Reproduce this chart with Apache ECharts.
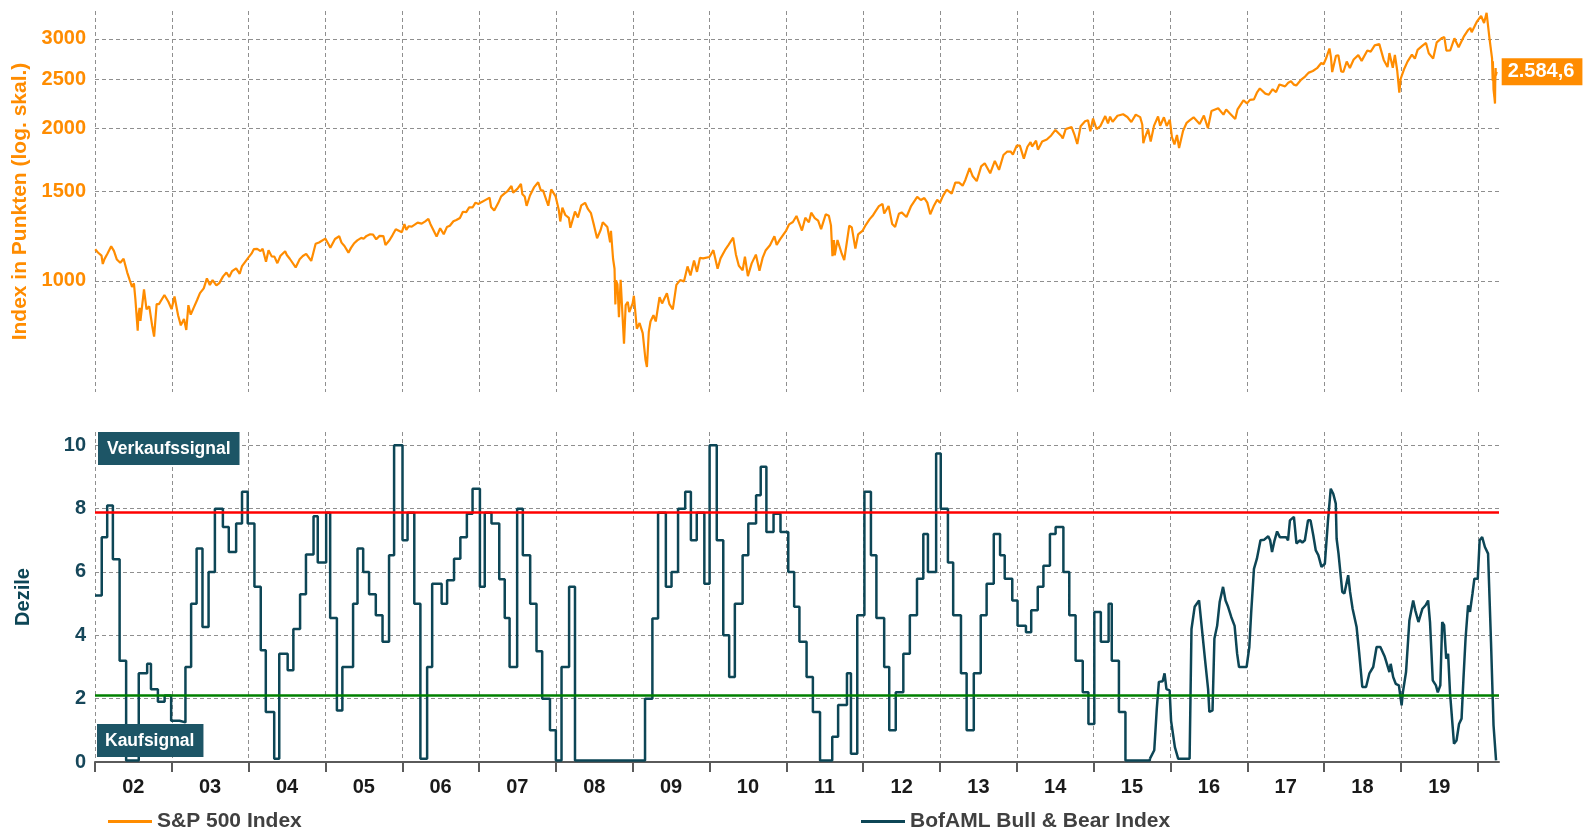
<!DOCTYPE html>
<html>
<head>
<meta charset="utf-8">
<script src="https://cdn.jsdelivr.net/npm/echarts@6/dist/echarts.min.js"></script>
<style>
  html, body { margin: 0; padding: 0; background: #fff; }
  #chart { width: 1583px; height: 830px; }
</style>
</head>
<body>
<div id="chart"></div>
<script>
// S&P 500 Index (Schlusskurse, gelesen aus der Vorlage)
var spxDates = [
  "2002-01-02","2002-01-15","2002-02-01","2002-02-07","2002-02-15","2002-03-01","2002-03-19","2002-04-01","2002-04-15","2002-05-01","2002-05-17","2002-06-03","2002-06-14","2002-06-26","2002-07-05","2002-07-12","2002-07-23","2002-07-26","2002-08-01","2002-08-05","2002-08-22","2002-09-03","2002-09-16","2002-09-30","2002-10-09","2002-10-21","2002-11-01","2002-11-27","2002-12-02","2002-12-16","2002-12-31",
  "2003-01-14","2003-01-31","2003-02-13","2003-02-28","2003-03-11","2003-03-21","2003-04-01","2003-04-15","2003-05-01","2003-05-15","2003-06-02","2003-06-17","2003-07-01","2003-07-14","2003-08-01","2003-08-15","2003-09-02","2003-09-18","2003-10-01","2003-10-15","2003-11-03","2003-11-20","2003-12-01","2003-12-31",
  "2004-01-15","2004-01-26","2004-02-11","2004-02-27","2004-03-08","2004-03-24","2004-04-05","2004-04-20","2004-05-03","2004-05-17","2004-06-01","2004-06-23","2004-07-01","2004-07-15","2004-08-12","2004-08-31","2004-09-15","2004-10-01","2004-10-25","2004-11-15","2004-12-01","2004-12-31",
  "2005-01-14","2005-01-24","2005-02-15","2005-03-07","2005-03-18","2005-04-01","2005-04-20","2005-05-02","2005-05-16","2005-06-01","2005-06-20","2005-07-01","2005-07-15","2005-08-01","2005-08-15","2005-08-30","2005-09-15","2005-10-03","2005-10-13","2005-11-01","2005-11-15","2005-12-01","2005-12-30",
  "2006-01-11","2006-01-20","2006-02-01","2006-02-15","2006-03-01","2006-03-15","2006-04-03","2006-04-20","2006-05-05","2006-05-15","2006-06-13","2006-06-30","2006-07-17","2006-08-01","2006-08-15","2006-09-01","2006-09-15","2006-10-02","2006-10-16","2006-11-01","2006-11-15","2006-12-01","2006-12-15","2006-12-29",
  "2007-01-12","2007-02-01","2007-02-20","2007-02-27","2007-03-14","2007-04-02","2007-04-16","2007-05-01","2007-05-15","2007-06-04","2007-06-12","2007-07-02","2007-07-19","2007-07-26","2007-08-06","2007-08-15","2007-08-31","2007-09-19","2007-10-09","2007-10-22","2007-11-01","2007-11-26","2007-12-10","2007-12-31",
  "2008-01-15","2008-01-22","2008-02-01","2008-02-15","2008-03-03","2008-03-10","2008-03-17","2008-04-01","2008-04-15","2008-05-01","2008-05-19","2008-06-02","2008-06-16","2008-07-01","2008-07-15","2008-08-01","2008-08-11","2008-09-02","2008-09-15","2008-09-19","2008-09-29","2008-10-06","2008-10-10","2008-10-13","2008-10-20","2008-10-27","2008-11-04","2008-11-20","2008-11-28","2008-12-08","2008-12-15","2008-12-31",
  "2009-01-06","2009-01-20","2009-02-02","2009-02-17","2009-03-02","2009-03-09","2009-03-18","2009-03-26","2009-04-09","2009-04-20","2009-05-08","2009-05-20","2009-06-12","2009-06-24","2009-07-10","2009-07-27","2009-08-14","2009-09-01","2009-09-18","2009-10-02","2009-10-19","2009-11-02","2009-11-16","2009-12-01","2009-12-31",
  "2010-01-19","2010-02-08","2010-02-22","2010-03-15","2010-04-01","2010-04-23","2010-05-06","2010-05-20","2010-06-07","2010-06-18","2010-07-02","2010-07-20","2010-08-09","2010-08-26","2010-09-10","2010-09-24","2010-10-15","2010-11-05","2010-11-16","2010-12-01","2010-12-31",
  "2011-01-14","2011-02-01","2011-02-18","2011-03-01","2011-03-16","2011-04-01","2011-04-18","2011-04-29","2011-05-16","2011-06-01","2011-06-15","2011-07-07","2011-07-22","2011-08-01","2011-08-08","2011-08-15","2011-08-19","2011-09-01","2011-09-22","2011-10-03","2011-10-27","2011-11-08","2011-11-25","2011-12-08","2011-12-30",
  "2012-01-13","2012-02-01","2012-02-15","2012-03-01","2012-03-16","2012-04-02","2012-04-10","2012-05-01","2012-05-18","2012-06-01","2012-06-19","2012-07-02","2012-07-25","2012-08-16","2012-09-14","2012-10-01","2012-10-18","2012-11-01","2012-11-15","2012-12-03","2012-12-18","2012-12-31",
  "2013-01-14","2013-02-01","2013-02-25","2013-03-14","2013-04-01","2013-04-18","2013-05-01","2013-05-21","2013-06-05","2013-06-24","2013-07-15","2013-08-01","2013-08-27","2013-09-18","2013-10-08","2013-10-29","2013-11-15","2013-12-02","2013-12-13","2013-12-31",
  "2014-01-15","2014-02-03","2014-02-20","2014-03-07","2014-03-14","2014-04-02","2014-04-11","2014-05-01","2014-05-23","2014-06-13","2014-07-03","2014-07-31","2014-08-07","2014-08-21","2014-09-18","2014-10-01","2014-10-15","2014-10-31","2014-11-21","2014-12-05","2014-12-16","2014-12-29",
  "2015-01-15","2015-02-02","2015-02-25","2015-03-10","2015-03-20","2015-04-01","2015-04-24","2015-05-21","2015-06-10","2015-06-29","2015-07-08","2015-07-20","2015-08-10","2015-08-20","2015-08-25","2015-09-01","2015-09-17","2015-09-29","2015-10-15","2015-11-03","2015-11-13","2015-12-01","2015-12-14","2015-12-29",
  "2016-01-08","2016-01-20","2016-02-01","2016-02-11","2016-03-01","2016-03-18","2016-04-01","2016-04-20","2016-05-19","2016-06-08","2016-06-27","2016-07-14","2016-08-15","2016-09-09","2016-09-22","2016-10-13","2016-11-04","2016-11-15","2016-12-13","2016-12-30",
  "2017-01-13","2017-02-01","2017-02-15","2017-03-01","2017-03-27","2017-04-13","2017-05-01","2017-05-17","2017-06-02","2017-06-29","2017-07-14","2017-07-27","2017-08-10","2017-08-21","2017-09-11","2017-10-02","2017-10-20","2017-11-08","2017-11-28","2017-12-18","2017-12-29",
  "2018-01-10","2018-01-26","2018-02-02","2018-02-08","2018-02-26","2018-03-09","2018-03-23","2018-04-02","2018-04-18","2018-05-03","2018-05-21","2018-06-12","2018-06-28","2018-07-25","2018-08-10","2018-08-29","2018-09-20","2018-10-11","2018-10-29","2018-11-07","2018-11-23","2018-12-03","2018-12-14","2018-12-24","2018-12-31",
  "2019-01-15","2019-02-01","2019-02-22","2019-03-08","2019-03-21","2019-04-12","2019-04-30","2019-05-13","2019-06-03","2019-06-20","2019-07-15","2019-07-26","2019-08-05","2019-08-23","2019-09-12","2019-10-02","2019-10-28","2019-11-15","2019-11-27","2019-12-03","2019-12-27",
  "2020-01-17","2020-01-31","2020-02-12","2020-02-19","2020-02-27","2020-03-03","2020-03-09","2020-03-12","2020-03-13","2020-03-16","2020-03-20","2020-03-23","2020-03-24","2020-03-26","2020-03-27","2020-03-31"
];
var spxValues = [
  1154.7,1138,1122,1080,1104,1131,1170,1146,1102,1086,1106,1040,1007,973,989,921,797.7,852,885,834,962,879,891,815,776.8,900,900,938,934,910,879.8,
  931.7,855.7,817.4,841,800.7,895.8,858,885,916,946,967,1011.7,982,1003.9,980,990,1021,1039,1018,1046,1059,1033,1070,1111.9,
  1132,1155,1157,1145,1157,1091,1150,1118,1117,1084,1121,1144,1125,1106,1063,1104,1120,1131,1095,1184,1191,1212,
  1184,1163,1210,1225,1190,1172,1137,1162,1185,1202,1216,1211,1227,1236,1234,1208,1227,1226,1177,1203,1230,1265,1248,
  1294,1261,1282,1280,1291,1303,1297,1311,1325,1294,1223,1270,1236,1277,1285,1311,1319,1331,1369,1367,1397,1396,1427,1418,
  1430,1445,1459,1399,1377,1424,1468,1486,1501,1539,1493,1519,1553,1482,1467,1406,1474,1529,1565,1506,1508,1407,1515,1468,
  1380,1310,1395,1349,1331,1273,1276,1370,1334,1409,1426,1385,1360,1284,1214,1260,1305,1277,1192,1255,1106,1057,899,1003,985,848,1005,752,896,909,868,903,
  935,805,826,789,700,676.5,794,832,856,832,929,903,946,900,879,982,1004,998,1068,1025,1097,1042,1110,1108,1115,
  1150,1057,1108,1150,1178,1217,1128,1071,1050,1117,1022,1083,1127,1047,1110,1148,1176,1225,1178,1206,1257,
  1293,1307,1343,1306,1257,1332,1305,1363,1330,1315,1265,1353,1345,1287,1119,1204,1123,1204,1129,1099,1285,1275,1158,1235,1257,
  1289,1324,1344,1374,1404,1419,1358,1405,1295,1278,1357,1365,1337,1405,1465,1444,1457,1427,1353,1409,1446,1426,
  1470,1513,1487,1563,1562,1541,1582,1669,1608,1573,1682,1706,1630,1725,1656,1771,1798,1800,1775,1848,
  1848,1742,1839,1878,1841,1891,1815,1883,1900,1936,1985,1931,1910,1992,2011,1946,1862,2018,2064,2075,1972,2090,
  1992,2020,2114,2044,2108,2059,2117,2131,2105,2058,2046,2128,2104,2035,1868,1914,1990,1884,2024,2110,2023,2103,2021,2078,
  1922,1859,1940,1829,1978,2050,2073,2102,2040,2119,2000,2163,2190,2128,2177,2132,2085,2180,2271,2239,
  2275,2280,2350,2396,2341,2329,2388,2357,2439,2419,2459,2475,2438,2428,2488,2529,2575,2594,2627,2690,2674,
  2748,2873,2762,2581,2780,2786,2588,2582,2708,2630,2733,2787,2716,2846,2833,2914,2931,2728,2641,2814,2633,2790,2600,2351,2507,
  2611,2707,2793,2743,2855,2907,2946,2812,2744,2954,3014,3026,2845,2847,3009,2888,3040,3120,3154,3093,3240,
  3330,3226,3379,3386,2979,3003,2747,2481,2711,2386,2305,2237,2447,2630,2541,2584.6
];

// BofAML Bull & Bear Index, Stufen bis 2015 (Datum = Beginn der Stufe)
var bbStepDates = [
  "2002-01-01","2002-02-02","2002-02-28","2002-03-27","2002-04-28","2002-05-29","2002-07-28","2002-09-06","2002-09-24","2002-10-27",
  "2002-11-28","2002-12-29","2003-02-07","2003-03-07","2003-04-03","2003-04-29","2003-05-27","2003-06-25","2003-07-25","2003-09-01",
  "2003-09-29","2003-11-03","2003-12-01","2003-12-28","2004-01-29","2004-02-28","2004-03-23","2004-05-02","2004-05-26","2004-07-05",
  "2004-08-01","2004-09-02","2004-09-30","2004-11-05","2004-11-25","2005-01-04","2005-01-23","2005-02-24","2005-03-22","2005-05-12",
  "2005-06-02","2005-06-29","2005-07-27","2005-08-28","2005-09-29","2005-10-30","2005-11-23","2006-01-02","2006-01-26","2006-02-27",
  "2006-03-28","2006-04-29","2006-05-23","2006-07-07","2006-08-02","2006-09-04","2006-10-04","2006-11-04","2006-12-01","2007-01-05",
  "2007-01-28","2007-03-01","2007-04-07","2007-05-03","2007-05-26","2007-07-01","2007-07-28","2007-09-01","2007-10-01","2007-10-28",
  "2007-12-04","2008-01-01","2008-01-28","2008-03-04","2008-04-01","2009-02-28","2009-04-04","2009-05-01","2009-06-07","2009-07-04",
  "2009-08-04","2009-09-07","2009-10-04","2009-11-01","2009-12-07","2010-01-01","2010-02-04","2010-03-07","2010-04-04","2010-05-01",
  "2010-06-07","2010-07-04","2010-08-10","2010-09-01","2010-09-28","2010-11-01","2010-12-04","2011-01-10","2011-02-07","2011-03-04",
  "2011-04-07","2011-05-07","2011-06-10","2011-08-07","2011-09-04","2011-10-16","2011-11-04","2011-12-04","2012-01-07","2012-02-07",
  "2012-03-04","2012-04-10","2012-05-04","2012-06-04","2012-07-10","2012-08-10","2012-09-13","2012-10-13","2012-11-04","2012-12-13",
  "2013-01-04","2013-02-07","2013-03-04","2013-04-10","2013-05-07","2013-06-10","2013-07-13","2013-08-10","2013-09-13","2013-10-13",
  "2013-11-04","2013-12-10","2014-01-04","2014-02-13","2014-03-10","2014-04-10","2014-05-07","2014-06-07","2014-07-04","2014-08-10",
  "2014-09-07","2014-10-07","2014-11-10","2014-12-07","2015-01-04","2015-02-04","2015-03-13","2015-03-28","2015-05-01","2015-06-01",
  "2015-09-25"
];
var bbStepValues = [
  5.26,7.1,8.1,6.4,3.2,0.05,2.8,3.1,2.3,1.9,
  2.1,1.3,1.25,3.0,5.0,6.74,4.26,6.0,8.0,7.42,
  6.63,7.53,8.53,7.53,5.53,3.53,1.58,0.1,3.42,2.9,
  4.2,5.3,6.55,7.76,6.3,7.87,4.55,1.63,3.0,5.0,
  6.74,6.0,5.3,4.63,3.8,6.53,10,7.0,7.87,5.0,
  0.1,3.0,5.63,5.0,5.74,6.42,7.1,7.84,8.63,5.53,
  7.87,7.53,5.77,4.55,3.0,8.0,6.53,5.0,3.5,2.0,
  1.0,0.05,3.0,5.53,0.05,2.0,4.53,7.87,5.53,6.0,
  8.0,8.53,7.0,7.87,5.63,10,7.0,4.0,2.68,5.0,
  6.53,7.53,8.42,9.32,7.26,7.84,7.26,6.0,4.9,3.8,
  2.68,1.58,0.05,0.8,1.8,2.8,0.26,4.63,8.53,6.53,
  4.55,3.0,1.0,2.2,3.42,4.63,5.79,7.2,6.0,9.74,
  8.0,6.3,4.63,2.8,1.0,2.8,4.63,5.63,7.2,6.53,
  5.79,5.1,4.3,4.1,4.79,5.53,6.2,7.2,7.42,6.0,
  4.63,3.2,2.2,1.2,4.74,3.8,5.0,3.2,1.58,0.05,
  0.1
];

// BofAML Bull & Bear Index, fortlaufend ab Herbst 2015
var bbDates = [
  "2015-09-25","2015-10-16","2015-10-28","2015-11-07","2015-11-25","2015-12-04","2015-12-13","2015-12-28","2016-01-04","2016-01-22",
  "2016-02-07","2016-04-01","2016-04-10","2016-04-25","2016-05-16","2016-05-25","2016-06-13","2016-06-28","2016-07-04","2016-07-19",
  "2016-07-28","2016-08-10","2016-08-22","2016-09-07","2016-09-19","2016-10-01","2016-10-16","2016-11-01","2016-11-13","2016-11-22",
  "2016-12-28","2017-01-10","2017-01-19","2017-02-01","2017-02-15","2017-03-04","2017-03-22","2017-04-10","2017-04-19","2017-04-28",
  "2017-05-10","2017-05-22","2017-06-04","2017-07-04","2017-07-13","2017-07-22","2017-08-10","2017-08-22","2017-09-07","2017-09-19",
  "2017-10-01","2017-10-16","2017-10-28","2017-11-10","2017-11-22","2017-12-04","2017-12-19","2018-01-04","2018-01-19","2018-02-01",
  "2018-02-13","2018-02-25","2018-03-01","2018-03-10","2018-03-19","2018-03-28","2018-04-07","2018-04-25","2018-05-04","2018-05-16",
  "2018-06-04","2018-06-16","2018-07-01","2018-07-19","2018-08-04","2018-08-22","2018-09-07","2018-09-25","2018-10-04","2018-10-16",
  "2018-10-25","2018-11-07","2018-11-13","2018-11-25","2018-12-07","2018-12-22","2019-01-04","2019-01-10","2019-01-25","2019-02-10",
  "2019-02-28","2019-03-10","2019-03-25","2019-04-13","2019-04-28","2019-05-10","2019-05-19","2019-06-01","2019-06-16","2019-06-25",
  "2019-07-07","2019-07-16","2019-07-25","2019-08-04","2019-08-13","2019-08-22","2019-09-10","2019-09-22","2019-10-04","2019-10-16",
  "2019-10-25","2019-11-04","2019-11-16","2019-11-25","2019-12-07","2019-12-16","2020-01-01","2020-01-10","2020-01-22","2020-02-04",
  "2020-02-19","2020-03-04","2020-03-16","2020-03-28"
];
var bbValues = [
  0.1,0.37,1.68,2.53,2.55,2.8,2.3,2.26,1.3,0.47,
  0.1,0.1,4.2,4.9,5.1,5.1,3.26,2.3,1.58,1.63,
  3.9,4.3,5.05,5.53,5.1,4.9,4.58,4.3,3.42,3.0,
  3.0,3.63,4.74,6.1,6.42,7.0,7.02,7.13,7.0,6.63,
  7.0,7.28,7.1,7.1,7.0,7.63,7.74,6.9,7.0,6.93,
  7.0,7.63,7.63,7.16,6.68,6.53,6.16,6.26,7.63,8.63,
  8.47,8.16,7.05,6.58,6.53,5.37,5.32,5.9,5.37,4.84,
  4.26,3.47,2.37,2.37,2.8,3.0,3.63,3.63,3.68,3.32,
  3.37,2.84,3.1,2.68,2.47,2.42,1.79,2.2,2.84,4.47,
  5.1,4.79,4.42,4.84,4.95,5.1,4.42,2.58,2.42,2.2,
  2.42,4.42,4.32,3.26,3.42,2.2,0.58,0.68,1.2,1.37,
  2.63,3.9,4.95,4.74,5.32,5.79,5.79,7.0,7.1,6.79,
  6.58,3.79,1.16,0.05
];

var spxTicks = [1000, 1500, 2000, 2500, 3000];
var decileTicks = [0, 2, 4, 6, 8, 10];
var sellLevel = 7.9;
var buyLevel = 2.1;
var firstYear = 2002, lastYear = 2020;

var FONT = "'Liberation Sans', Arial, sans-serif";
var ORANGE = "#FF8C00";
var TEAL = "#0d4656";
var GRID = "#8f8f8f";

function toTime(s) {
  var p = s.split("-");
  return +new Date(+p[0], +p[1] - 1, +p[2]);
}

function zip(dates, values) {
  if (dates.length !== values.length) {
    throw new Error("length mismatch " + dates.length + " / " + values.length);
  }
  return dates.map(function (d, i) { return [toTime(d), values[i]]; });
}

// Jahresgrenzen (Ticks/Gitter) und Jahresmitte (Beschriftung)
var yearStarts = [], yearMids = [];
for (var y = firstYear; y <= lastYear; y++) {
  yearStarts.push(+new Date(y, 0, 1));
  if (y < lastYear) yearMids.push(+new Date(y, 6, 2));
}
var xMin = +new Date(2002, 0, 1);
var xMax = +new Date(2020, 3, 11);

function deNum(v) {
  var p = v.toFixed(1).split(".");
  return p[0].replace(/\B(?=(\d{3})+(?!\d))/g, ".") + "," + p[1];
}

var gridLine = { color: GRID, width: 1, type: [4, 3] };

var myChart = echarts.init(document.getElementById("chart"));

var option = {
  animation: false,
  backgroundColor: "#ffffff",
  textStyle: { fontFamily: FONT },
  grid: [
    { left: 95, right: 84, top: 11, height: 381 },
    { left: 95, right: 84, top: 432, height: 330 }
  ],
  xAxis: [
    {
      type: "value", gridIndex: 0, min: xMin, max: xMax,
      axisLine: { show: false },
      axisTick: { show: false, customValues: yearStarts },
      axisLabel: { show: false, customValues: yearStarts },
      splitLine: { show: true, lineStyle: gridLine }
    },
    {
      type: "value", gridIndex: 1, min: xMin, max: xMax,
      axisLine: { show: true, onZero: false, lineStyle: { color: "#5a5a5a", width: 2 } },
      axisTick: { show: true, length: 10, customValues: yearStarts, lineStyle: { color: "#5a5a5a", width: 2 } },
      axisLabel: {
        show: true, customValues: yearMids, margin: 15,
        color: "#1a1a1a", fontSize: 20, fontWeight: "bold", fontFamily: FONT,
        formatter: function (v) { return String(new Date(v).getFullYear()).slice(2); }
      },
      splitLine: { show: true, lineStyle: gridLine }
    }
  ],
  yAxis: [
    {
      type: "log", logBase: 10, gridIndex: 0, min: 604, max: 3406,
      name: "Index in Punkten (log. skal.)",
      nameLocation: "middle", nameGap: 60, nameRotate: 90,
      nameTextStyle: { color: ORANGE, fontSize: 21, fontWeight: "bold", fontFamily: FONT },
      axisLine: { show: false },
      axisTick: { show: false, customValues: spxTicks },
      axisLabel: {
        customValues: spxTicks, margin: 9,
        color: ORANGE, fontSize: 20, fontWeight: "bold", fontFamily: FONT,
        formatter: function (v) { return String(Math.round(v)); }
      },
      splitLine: { show: true, lineStyle: gridLine }
    },
    {
      type: "value", gridIndex: 1, min: 0, max: 10.42,
      name: "Dezile",
      nameLocation: "middle", nameGap: 62, nameRotate: 90,
      nameTextStyle: { color: TEAL, fontSize: 20, fontWeight: "bold", fontFamily: FONT },
      axisLine: { show: false },
      axisTick: { show: false, customValues: decileTicks },
      axisLabel: {
        customValues: decileTicks, margin: 9,
        color: "#16475a", fontSize: 20, fontWeight: "bold", fontFamily: FONT
      },
      splitLine: { show: true, lineStyle: gridLine }
    }
  ],
  legend: [
    {
      data: ["S&P 500 Index"], left: 103, top: 806, icon: "rect",
      itemWidth: 44, itemHeight: 3, selectedMode: false,
      textStyle: { color: "#404040", fontSize: 21, fontWeight: "bold", fontFamily: FONT }
    },
    {
      data: ["BofAML Bull & Bear Index"], left: 856, top: 806, icon: "rect",
      itemWidth: 44, itemHeight: 3, selectedMode: false,
      textStyle: { color: "#404040", fontSize: 21, fontWeight: "bold", fontFamily: FONT }
    }
  ],
  graphic: [
    {
      type: "text", left: 98, top: 432, z: 100,
      style: {
        text: "Verkaufssignal", fill: "#ffffff",
        font: "bold 17.5px " + FONT,
        backgroundColor: "#1d5566", padding: [8, 9, 7, 9]
      }
    },
    {
      type: "text", left: 97, top: 724, z: 100,
      style: {
        text: "Kaufsignal", fill: "#ffffff",
        font: "bold 17.5px " + FONT,
        backgroundColor: "#1d5566", padding: [8, 9, 7, 8]
      }
    }
  ],
  series: [
    {
      name: "S&P 500 Index",
      type: "line", xAxisIndex: 0, yAxisIndex: 0,
      data: zip(spxDates, spxValues),
      showSymbol: false,
      color: ORANGE,
      lineStyle: { color: ORANGE, width: 2.2 },
      endLabel: {
        show: true, distance: 5,
        formatter: function (p) { return deNum(p.value[1]); },
        color: "#ffffff", backgroundColor: ORANGE,
        fontSize: 20, fontWeight: "bold", fontFamily: FONT,
        padding: [4, 8, 3, 6]
      }
    },
    {
      name: "BofAML Bull & Bear Index",
      type: "line", xAxisIndex: 1, yAxisIndex: 1,
      data: zip(bbStepDates, bbStepValues),
      step: "end",
      showSymbol: false,
      color: TEAL,
      lineStyle: { color: TEAL, width: 2.5 },
      markLine: {
        silent: true, symbol: ["none", "none"],
        label: { show: false },
        lineStyle: { type: "solid", width: 2.5 },
        data: [
          { yAxis: sellLevel, lineStyle: { color: "#ff0000", type: "solid", width: 2.5 } },
          { yAxis: buyLevel, lineStyle: { color: "#008000", type: "solid", width: 2.5 } }
        ]
      }
    },
    {
      name: "BofAML Bull & Bear Index",
      type: "line", xAxisIndex: 1, yAxisIndex: 1,
      data: zip(bbDates, bbValues),
      showSymbol: false,
      color: TEAL,
      lineStyle: { color: TEAL, width: 2.5 }
    }
  ]
};

myChart.setOption(option);
window.addEventListener("resize", function () {
  myChart.resize();
});
</script>
</body>
</html>
